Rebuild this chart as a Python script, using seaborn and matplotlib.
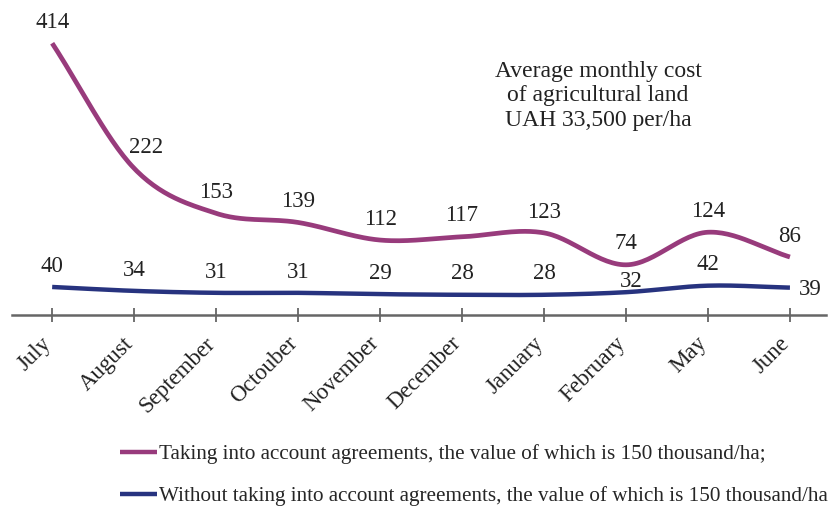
import numpy as np
import pandas as pd
import matplotlib
matplotlib.use("Agg")
import matplotlib.pyplot as plt
import seaborn as sns

months = ["July", "August", "September", "Octouber", "November", "December",
          "January", "February", "May", "June"]
with_agreements = [414, 222, 153, 139, 112, 117, 123, 74, 124, 86]
without_agreements = [40, 34, 31, 31, 29, 28, 28, 32, 42, 39]
label_with = "Taking into account agreements, the value of which is 150 thousand/ha;"
label_without = "Without taking into account agreements, the value of which is 150 thousand/ha"
note = "Average monthly cost\nof agricultural land\nUAH 33,500 per/ha"

PURPLE = "#983b7c"
NAVY = "#27337f"
GRAY = "#666666"
TEXT = "#222222"


def smooth(values, steps=30):
    """Catmull-Rom curve through the given values (display smoothing only)."""
    p = np.asarray(values, dtype=float)
    n = len(p)
    ext = np.concatenate([[2 * p[0] - p[1]], p, [2 * p[-1] - p[-2]]])
    xs, ys = [], []
    for i in range(n - 1):
        p0, p1, p2, p3 = ext[i], ext[i + 1], ext[i + 2], ext[i + 3]
        m1 = (p2 - p0) / 2
        m2 = (p3 - p1) / 2
        t = np.linspace(0, 1, steps, endpoint=(i == n - 2))
        h00 = 2 * t**3 - 3 * t**2 + 1
        h10 = t**3 - 2 * t**2 + t
        h01 = -2 * t**3 + 3 * t**2
        h11 = t**3 - t**2
        xs.append(i + t)
        ys.append(h00 * p1 + h10 * m1 + h01 * p2 + h11 * m2)
    return np.concatenate(xs), np.concatenate(ys)


sns.set_theme(style="white")
plt.rcParams["font.family"] = ["Liberation Serif", "DejaVu Serif"]

fig = plt.figure(figsize=(8.29, 5.11), dpi=100)
ax = fig.add_axes([12 / 829, 1 - 315 / 511, (826 - 12) / 829, (315 - 10) / 511])

x = np.arange(len(months))
sx1, sy1 = smooth(with_agreements)
sx2, sy2 = smooth(without_agreements)
df1 = pd.DataFrame({"x": sx1, "y": sy1})
df2 = pd.DataFrame({"x": sx2, "y": sy2})
sns.lineplot(data=df1, x="x", y="y", sort=False, color=PURPLE, linewidth=3.4,
             ax=ax, label=label_with, solid_capstyle="butt")
sns.lineplot(data=df2, x="x", y="y", sort=False, color=NAVY, linewidth=3.2,
             ax=ax, label=label_without, solid_capstyle="butt")

ax.set_xlim(-0.49, 9.44)
ax.set_ylim(-3, 465)

fs = 16.5
for i, v in enumerate(with_agreements):
    dx = 0.14 if i == 1 else 0
    ax.annotate(str(v), (i + dx, v), xytext=(0, 15), textcoords="offset points",
                ha="center", va="center", fontsize=fs, color=TEXT)
for i, v in enumerate(without_agreements):
    if i == 9:
        ax.annotate(str(v), (i, v), xytext=(15, -1), textcoords="offset points",
                    ha="center", va="center", fontsize=fs, color=TEXT)
    elif i == 7:
        ax.annotate(str(v), (i, v), xytext=(4, 8), textcoords="offset points",
                    ha="center", va="center", fontsize=fs, color=TEXT)
    else:
        ax.annotate(str(v), (i, v), xytext=(0, 15), textcoords="offset points",
                    ha="center", va="center", fontsize=fs, color=TEXT)

fig.text(598 / 829, 1 - 96 / 511, note, ha="center", va="center",
         fontsize=17, color=TEXT, linespacing=1.2)

ax.set_xticks(x)
ax.set_xticklabels(months, rotation=45, ha="right", va="baseline",
                   rotation_mode="anchor", fontsize=16.5, color=TEXT)
ax.set_yticks([])
ax.set_xlabel("")
ax.set_ylabel("")
for s in ["top", "right", "left"]:
    ax.spines[s].set_visible(False)
ax.spines["bottom"].set_color(GRAY)
ax.spines["bottom"].set_linewidth(1.8)
ax.tick_params(axis="x", direction="inout", length=10, width=1.3, color=GRAY,
               pad=16, bottom=True)
ax.patch.set_alpha(0)

leg = ax.legend(loc="center left", bbox_to_anchor=(120 / 829, 1 - 475 / 511),
                bbox_transform=fig.transFigure, frameon=False, fontsize=15.2,
                handlelength=1.75, handletextpad=0.1, labelspacing=1.05,
                borderaxespad=0, borderpad=0)
for h in leg.get_lines():
    h.set_linewidth(3.2)

fig.savefig("out.png", dpi=100)
